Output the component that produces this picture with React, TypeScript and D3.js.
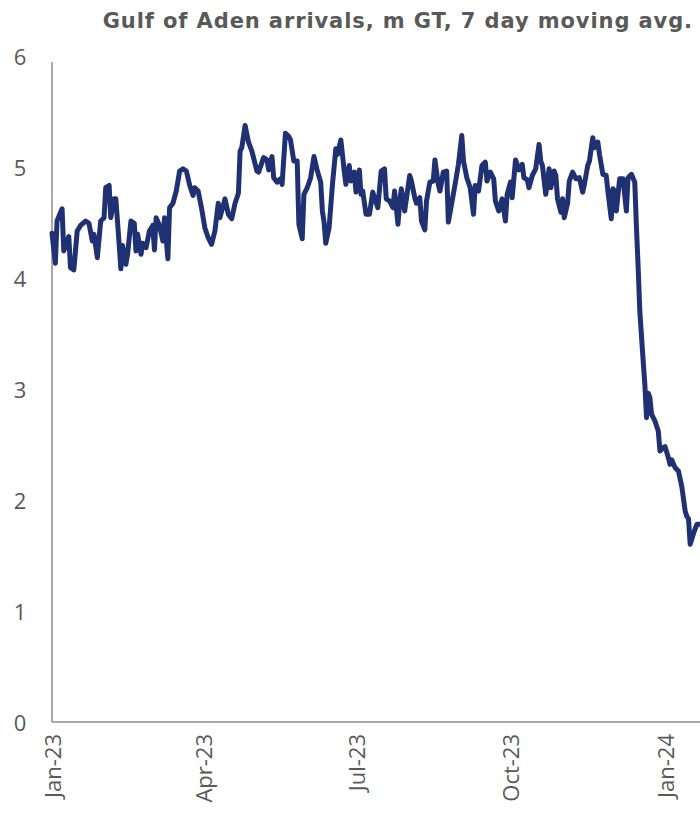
import React from "react";
import * as d3 from "d3";

const TITLE = "Gulf of Aden arrivals, m GT, 7 day moving avg.";
const START_DATE = "2023-01-01";
const X_TICK_DATES = ["2023-01-01", "2023-04-01", "2023-07-01", "2023-10-01", "2024-01-01"];
const X_TICK_LABELS = ["Jan-23", "Apr-23", "Jul-23", "Oct-23", "Jan-24"];
const Y_TICKS = [0, 1, 2, 3, 4, 5, 6];

// day offsets from START_DATE
const dayOffsets = [
  0, 2, 3, 6, 7, 10, 11, 13, 15, 17, 20, 22, 24, 25, 27, 29, 31, 32, 34, 35, 37, 38, 40, 41, 42, 44, 45, 47, 49, 50,
  51, 53, 54, 56, 58, 60, 61, 62, 64, 66, 67, 69, 70, 72, 74, 76, 78, 80, 82, 84, 85, 87, 89, 91, 93, 95, 97, 99, 100,
  103, 105, 107, 109, 111, 112, 113, 115, 117, 119, 120, 122, 123, 126, 128, 129, 131, 132, 134, 136, 137, 139, 141,
  142, 144, 146, 147, 149, 150, 152, 154, 156, 158, 160, 161, 162, 163, 165, 167, 169, 170, 172, 174, 175, 177, 178,
  180, 181, 183, 184, 185, 187, 189, 191, 192, 194, 196, 198, 199, 201, 203, 204, 206, 207, 208, 210, 211, 213, 214,
  216, 217, 219, 220, 222, 223, 225, 227, 228, 230, 231, 233, 235, 236, 238, 240, 242, 244, 245, 247, 249, 251, 252,
  254, 256, 258, 259, 261, 263, 264, 266, 268, 270, 271, 273, 274, 276, 278, 280, 281, 283, 284, 286, 288, 290, 291,
  292, 294, 296, 297, 299, 300, 301, 303, 304, 305, 307, 308, 310, 312, 314, 316, 317, 319, 320, 322, 323, 325, 326,
  328, 330, 331, 333, 334, 335, 336, 338, 340, 342, 343, 345, 347, 348, 349, 350, 352, 353, 354, 355, 356, 357, 359,
  361, 362, 364, 365, 367, 368, 369, 371, 373, 375, 377, 378, 379, 380, 382, 384, 386,
];

const arrivals = [
  4.4, 4.13, 4.51, 4.62, 4.24, 4.37, 4.09, 4.07, 4.42, 4.47, 4.51, 4.49, 4.33, 4.39, 4.18, 4.51, 4.54, 4.81, 4.83, 4.54,
  4.71, 4.71, 4.3, 4.08, 4.29, 4.12, 4.21, 4.51, 4.49, 4.24, 4.39, 4.21, 4.31, 4.27, 4.42, 4.47, 4.25, 4.54, 4.47, 4.33,
  4.54, 4.17, 4.63, 4.67, 4.78, 4.96, 4.98, 4.96, 4.83, 4.74, 4.81, 4.78, 4.63, 4.45, 4.36, 4.3, 4.42, 4.67, 4.54,
  4.71, 4.57, 4.53, 4.67, 4.76, 5.14, 5.17, 5.37, 5.22, 5.14, 5.08, 4.96, 4.95, 5.08, 5.06, 4.97, 5.09, 4.9, 4.86,
  4.89, 4.84, 5.3, 5.27, 5.24, 5.05, 5.05, 4.48, 4.35, 4.75, 4.81, 4.9, 5.09, 4.96, 4.86, 4.6, 4.5, 4.31, 4.45, 4.84,
  5.16, 5.11, 5.24, 4.96, 4.84, 5.01, 4.87, 4.95, 4.77, 4.97, 4.75, 4.78, 4.57, 4.57, 4.77, 4.72, 4.63, 4.96, 4.98,
  4.71, 4.69, 4.63, 4.78, 4.48, 4.67, 4.8, 4.6, 4.71, 4.92, 4.87, 4.72, 4.67, 4.72, 4.51, 4.43, 4.69, 4.86, 4.87, 5.06,
  4.84, 4.78, 4.95, 4.96, 4.5, 4.67, 4.84, 5.02, 5.28, 5.05, 4.9, 4.81, 4.57, 4.83, 4.78, 5.01, 5.04, 4.87, 4.95, 4.89,
  4.69, 4.6, 4.71, 4.51, 4.75, 4.86, 4.72, 5.06, 4.97, 5.02, 4.9, 4.88, 4.81, 4.92, 4.98, 5.2, 5.05, 5.01, 4.75, 4.98,
  4.81, 4.96, 4.92, 4.71, 4.59, 4.71, 4.54, 4.67, 4.87, 4.95, 4.89, 4.9, 4.77, 4.84, 5.01, 5.05, 5.26, 5.17, 5.22,
  5.11, 4.93, 4.92, 4.78, 4.53, 4.8, 4.78, 4.6, 4.89, 4.89, 4.6, 4.9, 4.93, 4.86, 4.45, 4.1, 3.7, 3.25, 3.04, 2.74,
  2.96, 2.92, 2.77, 2.71, 2.62, 2.44, 2.47, 2.48, 2.38, 2.32, 2.36, 2.29, 2.26, 2.12, 1.9, 1.85, 1.83, 1.6, 1.7, 1.78,
  1.78,
];

const W = 700;
const H = 828;
const TEXT = "#595959";
const AXIS = "#8c8c8c";
const LINE = "#1f3172";

export default function App() {
  const parse = d3.utcParse("%Y-%m-%d");
  const start = parse(START_DATE) as Date;
  const data = dayOffsets.map((d, i) => ({ date: d3.utcDay.offset(start, d), v: arrivals[i] }));

  const x = d3
    .scaleUtc()
    .domain([parse("2023-01-01") as Date, parse("2024-01-01") as Date])
    .range([52, 665]);
  const y = d3.scaleLinear().domain([0, 6]).range([722, 55.5]);

  const line = d3
    .line<{ date: Date; v: number }>()
    .x((d) => x(d.date))
    .y((d) => y(d.v));

  return (
    <svg
      width={W}
      height={H}
      style={{ position: "absolute", left: 0, top: 0, background: "#fff" }}
      fontFamily="'DejaVu Sans', sans-serif"
    >
      <text x={693} y={28} textAnchor="end" fontWeight="bold" fontSize={21} letterSpacing={0.9} fill={TEXT}>
        {TITLE}
      </text>
      {/* axes */}
      <line x1={52} x2={52} y1={62} y2={y(0)} stroke={AXIS} strokeWidth={1.5} />
      <line x1={52} x2={W} y1={y(0)} y2={y(0)} stroke={AXIS} strokeWidth={1.5} />
      {Y_TICKS.map((t) => (
        <text
          key={t}
          x={20}
          y={y(t)}
          textAnchor="middle"
          dominantBaseline="central"
          fontSize={22}
          fontFamily="'Open Sans', sans-serif"
          fill={TEXT}
        >
          {t}
        </text>
      ))}
      {X_TICK_DATES.map((ds, i) => {
        const xp = x(parse(ds) as Date);
        return (
          <text
            key={ds}
            transform={`translate(${xp},734) rotate(-90)`}
            textAnchor="end"
            dominantBaseline="central"
            fontSize={22}
            fontFamily="'Open Sans', sans-serif"
            fill={TEXT}
          >
            {X_TICK_LABELS[i]}
          </text>
        );
      })}
      <path
        d={line(data) || ""}
        fill="none"
        stroke={LINE}
        strokeWidth={5}
        strokeLinejoin="round"
        strokeLinecap="round"
      />
    </svg>
  );
}
